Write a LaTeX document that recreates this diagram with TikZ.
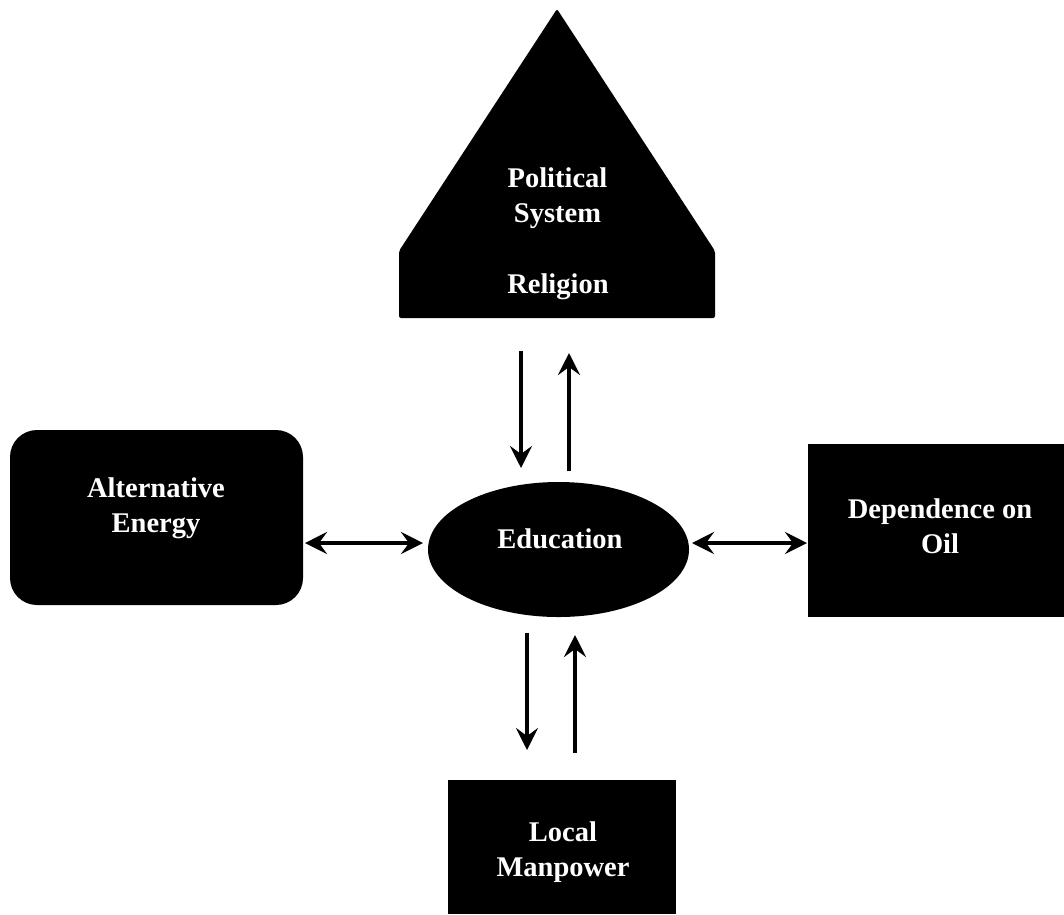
\documentclass[tikz,border=0pt]{standalone}
\usepackage{fontspec}
\setmainfont{Liberation Serif}
\usetikzlibrary{arrows.meta,shapes.geometric}
\begin{document}
\begin{tikzpicture}[x=1pt,y=-1pt,
  lbl/.style={text=white,font=\bfseries\fontsize{28.5}{35}\selectfont,align=center,inner sep=0pt},
  blk/.style={fill=black,draw=none,inner sep=0pt},
  tip/.tip={Stealth[length=22pt,width=22pt,inset=8pt]},
  arr/.style={line width=4pt,-tip},
  darr/.style={line width=4pt,tip-tip}]
\useasboundingbox (0,0) rectangle (1064,914);
% Political system / religion (pentagon)
\fill[black,rounded corners=2pt] (399,318) -- (399,251) -- (557,9) -- (715,251) -- (715,318) -- cycle;
\node[lbl] (pol) at (557.5,198) {Political\\System};
\node[lbl] (rel) at (558,286.5) {Religion};
% Alternative energy
\node[blk,rounded corners=27pt,minimum width=293pt,minimum height=175pt] (alt) at (156.5,517.5) {};
\node[lbl] (alttxt) at (156,508) {Alternative\\Energy};
% Education
\node[blk,ellipse,minimum width=261pt,minimum height=135pt] (edu) at (558.5,549.5) {};
\node[lbl] (edutxt) at (560,539) {Education};
% Dependence on oil
\node[blk,minimum width=256pt,minimum height=173pt] (oil) at (936,530.5) {};
\node[lbl] (oiltxt) at (940,526.3) {Dependence on\\Oil};
% Local manpower
\node[blk,minimum width=228pt,minimum height=134pt] (man) at (562,847) {};
\node[lbl] (mantxt) at (563,852.5) {Local\\Manpower};
% arrow end points
\coordinate (a1s) at (521,351); \coordinate (a1e) at (521,468);
\coordinate (a2s) at (569,471); \coordinate (a2e) at (569,353);
\coordinate (a3s) at (305,543); \coordinate (a3e) at (423,543);
\coordinate (a4s) at (692,543); \coordinate (a4e) at (807,543);
\coordinate (a5s) at (527,633); \coordinate (a5e) at (527,750);
\coordinate (a6s) at (575,753); \coordinate (a6e) at (575,635);
\draw[arr] (a1s) -- (a1e);
\draw[arr] (a2s) -- (a2e);
\draw[darr] (a3s) -- (a3e);
\draw[darr] (a4s) -- (a4e);
\draw[arr] (a5s) -- (a5e);
\draw[arr] (a6s) -- (a6e);
\end{tikzpicture}
\end{document}
